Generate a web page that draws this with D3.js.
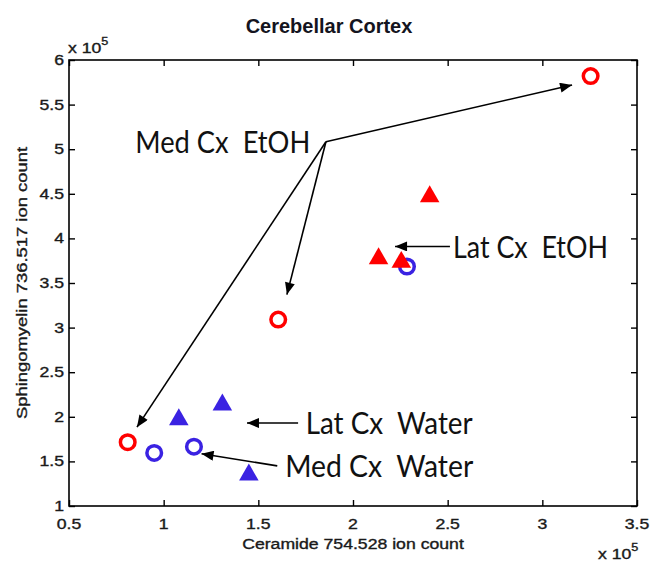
<!DOCTYPE html>
<html>
<head>
<meta charset="utf-8">
<script src="https://cdn.jsdelivr.net/npm/d3@7"></script>
<style>
  html, body { margin: 0; padding: 0; background: #fff; }
  svg { display: block; }
  .tick-lbl { font-family: 'Liberation Sans', Arial, sans-serif; font-size: 14px; fill: #1a1a1a; stroke: #1a1a1a; stroke-width: 0.35px; }
  .ann { font-family: Lato, 'Open Sans', sans-serif; font-size: 30px; fill: #111; }
</style>
</head>
<body>
<svg id="chart" width="654" height="562"></svg>
<script>
// values are in units of 1e5 ion counts (matlab style exponent label)
const redCircleX  = [3.255, 1.605, 0.81];
const redCircleY  = [5.82, 3.09, 1.715];
const blueCircleX = [2.285, 0.95, 1.16];
const blueCircleY = [3.685, 1.595, 1.665];
const redTriX  = [2.405, 2.135, 2.255];
const redTriY  = [4.48, 3.785, 3.745];
const blueTriX = [1.08, 1.31, 1.45];
const blueTriY = [1.98, 2.145, 1.36];

const xTicks = [0.5, 1, 1.5, 2, 2.5, 3, 3.5];
const yTicks = [1, 1.5, 2, 2.5, 3, 3.5, 4, 4.5, 5, 5.5, 6];

// annotation labels, anchor (text start) and arrows [from, to] in data units
const annLabels = ['Med Cx  EtOH', 'Lat Cx  EtOH', 'Lat Cx  Water', 'Med Cx  Water'];
const annTextX  = [0.85, 2.528, 1.75, 1.642];
const annTextY  = [4.96, 3.785, 1.805, 1.325];
const annWidth  = [175, 155, 167, 188];
const arrowFrom = [[1.857, 5.083], [1.857, 5.083], [1.857, 5.083], [2.512, 3.91], [1.71, 1.93], [1.6, 1.45]];
const arrowTo   = [[3.157, 5.72], [1.651, 3.37], [0.859, 1.884], [2.222, 3.91], [1.44, 1.93], [1.2, 1.585]];

const RED = '#ff0000', BLUE = '#3a22e2';
const XSTRETCH = 1.26; // the source picture is stretched sideways

const M = { left: 69, right: 637, top: 60, bottom: 506 };
const x = d3.scaleLinear().domain([0.5, 3.5]).range([M.left, M.right]);
const y = d3.scaleLinear().domain([1, 6]).range([M.bottom, M.top]);

const svg = d3.select('#chart');

svg.append('defs').append('marker')
  .attr('id', 'ah').attr('markerUnits', 'userSpaceOnUse')
  .attr('viewBox', '0 0 12 10').attr('refX', 12).attr('refY', 5)
  .attr('markerWidth', 13).attr('markerHeight', 10).attr('orient', 'auto')
  .append('path').attr('d', 'M0,0 L12,5 L0,10 Z').attr('fill', '#000');

function stretch(sel) {
  sel.each(function() {
    this.setAttribute('textLength', this.getComputedTextLength() * XSTRETCH);
    this.setAttribute('lengthAdjust', 'spacingAndGlyphs');
  });
}

// title
svg.append('text').attr('x', 329).attr('y', 33).attr('text-anchor', 'middle')
  .attr('font-family', "'Liberation Sans', Arial, sans-serif")
  .attr('font-weight', 'bold').attr('font-size', 20).attr('fill', '#141420')
  .text('Cerebellar Cortex');

// axes box with inward ticks on all four sides
const tl = 6;
const ax = svg.append('g');
ax.append('g').attr('transform', `translate(0,${M.bottom})`)
  .call(d3.axisTop(x).tickValues(xTicks).tickSize(tl).tickFormat(''));
ax.append('g').attr('transform', `translate(0,${M.top})`)
  .call(d3.axisBottom(x).tickValues(xTicks).tickSize(tl).tickFormat(''));
ax.append('g').attr('transform', `translate(${M.left},0)`)
  .call(d3.axisRight(y).tickValues(yTicks).tickSize(tl).tickFormat(''));
ax.append('g').attr('transform', `translate(${M.right},0)`)
  .call(d3.axisLeft(y).tickValues(yTicks).tickSize(tl).tickFormat(''));
ax.selectAll('path.domain').remove();
ax.selectAll('line').attr('stroke', '#000').attr('stroke-width', 1.4);
svg.append('rect').attr('x', M.left).attr('y', M.top)
  .attr('width', M.right - M.left).attr('height', M.bottom - M.top)
  .attr('fill', 'none').attr('stroke', '#000').attr('stroke-width', 1.6);

// tick labels
svg.selectAll('text.xl').data(xTicks).join('text').attr('class', 'tick-lbl xl')
  .attr('x', d => x(d)).attr('y', M.bottom + 23).attr('text-anchor', 'middle')
  .text(d => d3.format('')(d)).call(stretch);
svg.selectAll('text.yl').data(yTicks).join('text').attr('class', 'tick-lbl yl')
  .attr('x', M.left - 5).attr('y', d => y(d) + 5).attr('text-anchor', 'end')
  .text(d => d3.format('')(d)).call(stretch);

// exponent labels
const expo = (tx, ty) => {
  const t = svg.append('text').attr('class', 'tick-lbl').attr('x', tx).attr('y', ty);
  t.append('tspan').text('x 10').call(stretch);
  t.append('tspan').attr('dy', -8).attr('font-size', 10).text('5').call(stretch);
};
expo(68, 53);
expo(598, 559);

// axis titles
svg.append('text').attr('class', 'tick-lbl').attr('x', x(2)).attr('y', 549)
  .attr('text-anchor', 'middle').text('Ceramide 754.528 ion count').call(stretch);
svg.append('text').attr('class', 'tick-lbl')
  .attr('transform', `translate(27,${(M.top + M.bottom) / 2}) rotate(-90)`)
  .attr('text-anchor', 'middle').attr('textLength', 272).attr('lengthAdjust', 'spacingAndGlyphs')
  .text('Sphingomyelin 736.517 ion count');

// markers
const circles = (xs, ys, col) => svg.append('g').selectAll('circle')
  .data(xs.map((v, i) => [v, ys[i]])).join('circle')
  .attr('cx', d => x(d[0])).attr('cy', d => y(d[1])).attr('r', 7.3)
  .attr('fill', 'none').attr('stroke', col).attr('stroke-width', 3.5);
const tri = d3.symbol().type(d3.symbolTriangle).size(165);
const triangles = (xs, ys, col) => svg.append('g').selectAll('path')
  .data(xs.map((v, i) => [v, ys[i]])).join('path')
  .attr('transform', d => `translate(${x(d[0])},${y(d[1]) + 1})`)
  .attr('d', tri).attr('fill', col);

circles(blueCircleX, blueCircleY, BLUE);
circles(redCircleX, redCircleY, RED);
triangles(blueTriX, blueTriY, BLUE);
triangles(redTriX, redTriY, RED);

// annotation arrows and labels
svg.append('g').selectAll('line').data(arrowFrom).join('line')
  .attr('x1', d => x(d[0])).attr('y1', d => y(d[1]))
  .attr('x2', (d, i) => x(arrowTo[i][0])).attr('y2', (d, i) => y(arrowTo[i][1]))
  .attr('stroke', '#000').attr('stroke-width', 1.6).attr('marker-end', 'url(#ah)');

svg.append('g').selectAll('text').data(annLabels).join('text').attr('class', 'ann')
  .attr('x', (d, i) => x(annTextX[i])).attr('y', (d, i) => y(annTextY[i]))
  .attr('textLength', (d, i) => annWidth[i]).attr('lengthAdjust', 'spacingAndGlyphs')
  .style('white-space', 'pre')
  .text(d => d);
</script>
</body>
</html>
